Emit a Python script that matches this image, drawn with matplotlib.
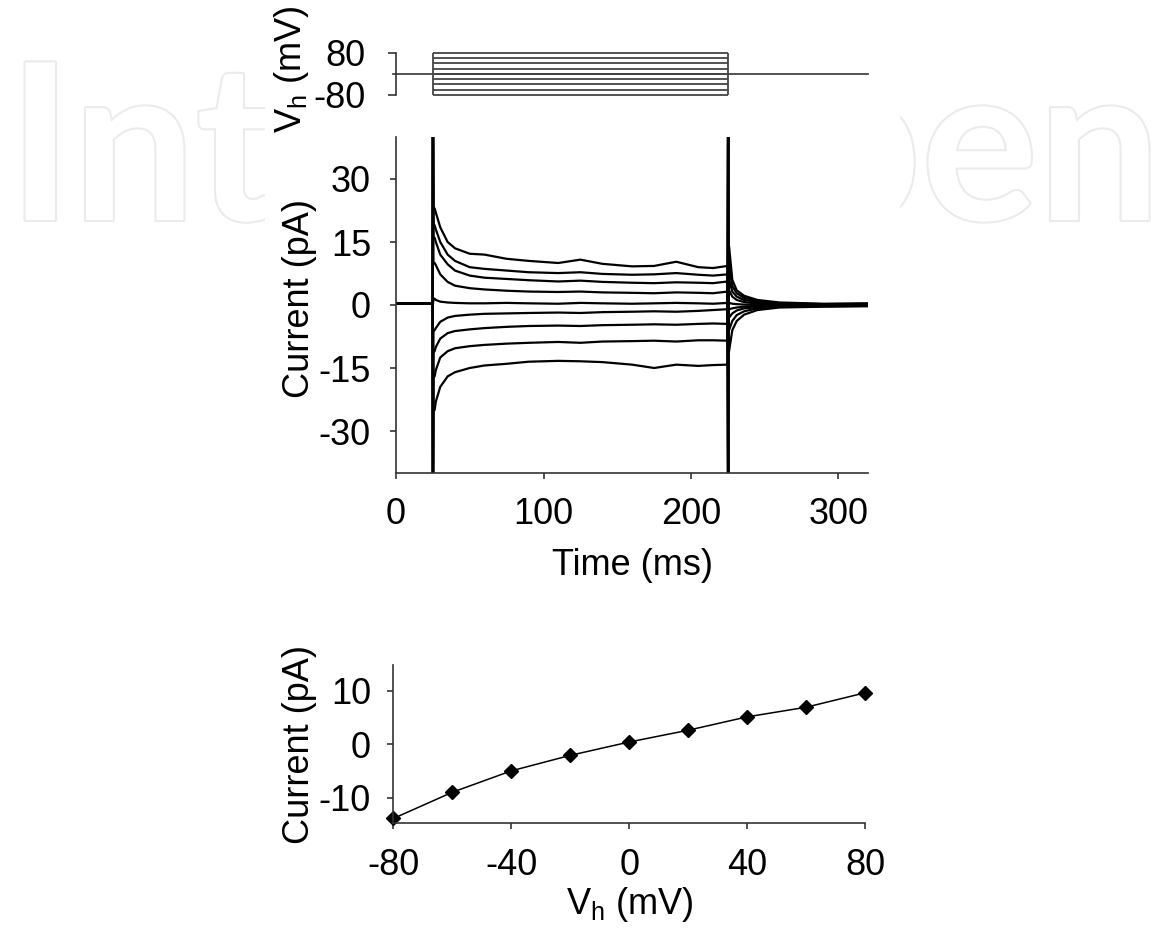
import numpy as np
import matplotlib.pyplot as plt
import matplotlib.patheffects as pe
from matplotlib.patches import Rectangle

plt.rcParams['font.family'] = ['Liberation Sans', 'DejaVu Sans']
plt.rcParams['mathtext.fontset'] = 'custom'
plt.rcParams['mathtext.rm'] = 'Liberation Sans'
plt.rcParams['axes.unicode_minus'] = False

#---------------- data ----------------
# voltage protocol (mV), steps from 25 to 225 ms, holding at 0 mV
step_levels = [80, 60, 40, 20, 0, -20, -40, -60, -80]
step_on = 25
step_off = 225
hold_mV = 0
hold_t = [-2, 320]

# current traces (pA), one row per step level (same order as step_levels)
t_pre = [0, 24.8]
base_pA = 0.3
spike_on = [60, 60, 60, 60, 0, -60, -60, -60, -60]   # capacitive spike, off scale
t_plateau = [26.2, 27, 30, 35, 40, 50, 60, 75, 90, 110, 125, 140, 160, 175, 190, 205, 215, 224.8]
i_plateau = [
    [23, 22, 18.5, 15, 13.5, 12.2, 12, 11, 10.5, 10, 10.8, 9.8, 9.2, 9.3, 10.3, 9, 8.8, 9.3],
    [19, 18, 15, 12, 10.5, 9, 8.6, 8.2, 7.8, 7.6, 7.8, 7.4, 7.2, 7.3, 7.6, 7.2, 7, 7.3],
    [16, 15, 12, 9.7, 8.2, 7, 6.5, 6.2, 5.9, 5.6, 5.8, 5.5, 5.3, 5.2, 5.4, 5.3, 5.2, 5.6],
    [10, 9.5, 7.3, 5.5, 4.6, 4, 3.7, 3.4, 3.2, 3.1, 3.2, 3, 2.9, 2.8, 3, 2.9, 2.8, 3.2],
    [1.5, 1.2, 0.8, 0.6, 0.5, 0.4, 0.4, 0.5, 0.4, 0.3, 0.5, 0.4, 0.3, 0.4, 0.5, 0.4, 0.3, 0.5],
    [-6, -5.5, -4, -3, -2.6, -2.3, -2.1, -2, -1.9, -1.8, -1.9, -1.7, -1.6, -1.5, -1.6, -1.4, -1.2, -1],
    [-11, -10, -8, -6.7, -6.2, -5.8, -5.5, -5.2, -5, -4.9, -5, -4.8, -4.7, -4.6, -4.7, -4.5, -4.4, -4.5],
    [-17, -15.5, -12.5, -11, -10.3, -9.8, -9.5, -9.2, -9, -8.8, -9, -8.7, -8.6, -8.5, -8.7, -8.4, -8.4, -8.5],
    [-25, -23, -19.5, -17, -16, -15, -14.4, -14, -13.5, -13.3, -13.4, -13.6, -14.2, -15, -14.2, -14.5, -14.3, -14.2],
]
t_tail = [225.8, 228, 231, 236, 245, 260, 290, 320]
i_tail = [
    [14, 6, 3.5, 2.2, 1.2, 0.6, 0.3, 0.4],
    [9, 4.5, 2.8, 1.7, 0.9, 0.4, 0.2, 0.3],
    [6, 3.2, 2, 1.2, 0.6, 0.3, 0.1, 0.2],
    [3.5, 2, 1.2, 0.7, 0.3, 0.1, 0, 0.1],
    [0.5, 0.3, 0.2, 0.1, 0, 0, -0.1, 0],
    [-1, -0.8, -0.6, -0.4, -0.3, -0.2, -0.1, 0],
    [-3, -2, -1.3, -0.8, -0.5, -0.3, -0.2, -0.1],
    [-6, -3.8, -2.4, -1.5, -0.8, -0.4, -0.3, -0.2],
    [-11, -6, -3.8, -2.3, -1.2, -0.6, -0.4, -0.3],
]

# steady-state I-V relation
iv_mV = [-80, -60, -40, -20, 0, 20, 40, 60, 80]
iv_pA = [-13.9, -9.0, -5.0, -2.1, 0.4, 2.6, 5.1, 6.9, 9.6]

#---------------- figure ----------------
W, H = 1151, 932
fig = plt.figure(figsize=(W / 100, H / 100), dpi=100)

# publisher watermark behind the pasted figure
fig.text(8 / W, 1 - 220 / H, 'IntechOpen', fontsize=157, family='Lato',
         weight='bold', color='white', ha='left', va='baseline', zorder=-3,
         path_effects=[pe.withStroke(linewidth=3, foreground='#ebebeb')])
fig.patches.append(Rectangle((265 / W, 0), (900 - 265) / W, 1, transform=fig.transFigure,
                             facecolor='white', edgecolor='none', zorder=-2))

FS = 26
spine_c = '#333333'


def style(ax, pad_x, pad_y):
    for s in ['top', 'right']:
        ax.spines[s].set_visible(False)
    for s in ['left', 'bottom']:
        ax.spines[s].set_color(spine_c)
        ax.spines[s].set_linewidth(1.2)
    ax.tick_params(axis='x', direction='out', length=4, width=1.2, color=spine_c,
                   labelsize=FS, pad=pad_x)
    ax.tick_params(axis='y', direction='out', length=4, width=1.2, color=spine_c,
                   labelsize=FS, pad=pad_y)
    ax.patch.set_alpha(0)


# top: voltage protocol
ax_v = fig.add_axes([396 / W, 1 - 95 / H, 472 / W, 42.3 / H])
ax_v.hlines(step_levels, step_on, step_off, color='#444444', lw=1.3, clip_on=False)
ax_v.vlines([step_on, step_off], min(step_levels), max(step_levels), color='#444444',
            lw=1.3, clip_on=False)
ax_v.plot(hold_t, [hold_mV, hold_mV], color='#444444', lw=1.3, clip_on=False)
ax_v.set_xlim(0, 320)
ax_v.set_ylim(-80, 80)
style(ax_v, 4, 16)
ax_v.spines['bottom'].set_visible(False)
ax_v.set_xticks([])
ax_v.set_yticks([-80, 80])
ax_v.tick_params(axis='y', length=6)
ax_v.set_ylabel('V$_\\mathregular{h}$ (mV)', fontsize=FS, va='center')
ax_v.yaxis.set_label_coords(-0.222, 0.6)

# middle: current traces
ax_i = fig.add_axes([396 / W, 1 - 473 / H, 472 / W, 336 / H])
for k in range(len(step_levels)):
    t = t_pre + [step_on, step_on + 0.4] + t_plateau + [step_off + 0.2, step_off + 0.5] + t_tail
    v = ([base_pA, base_pA, spike_on[k], i_plateau[k][0]] + i_plateau[k]
         + [-spike_on[k], i_tail[k][0]] + i_tail[k])
    ax_i.plot(t, v, color='black', lw=1.6)
ax_i.set_xlim(0, 320)
ax_i.set_ylim(-40, 40)
ax_i.set_xticks([0, 100, 200, 300])
ax_i.set_yticks([-30, -15, 0, 15, 30])
style(ax_i, 13.5, 14)
ax_i.set_xlabel('Time (ms)', fontsize=FS, va='center')
ax_i.xaxis.set_label_coords(0.502, -0.274)
ax_i.set_ylabel('Current (pA)', fontsize=FS, va='center')
ax_i.yaxis.set_label_coords(-0.204, 0.52)

# bottom: I-V curve
ax_iv = fig.add_axes([393.3 / W, 1 - 823.3 / H, 471.7 / W, 158.3 / H])
ax_iv.plot(iv_mV, iv_pA, color='black', lw=1.1, marker='D', markersize=7, clip_on=False)
ax_iv.set_xlim(-80, 80)
ax_iv.set_ylim(-14.8, 14.8)
ax_iv.set_xticks([-80, -40, 0, 40, 80])
ax_iv.set_yticks([-10, 0, 10])
style(ax_iv, 14, 12)
ax_iv.set_xlabel('V$_\\mathregular{h}$ (mV)', fontsize=FS, va='center')
ax_iv.xaxis.set_label_coords(0.502, -0.51)
ax_iv.set_ylabel('Current (pA)', fontsize=FS, va='center')
ax_iv.yaxis.set_label_coords(-0.198, 0.5)

fig.savefig('out.png', dpi=100)
